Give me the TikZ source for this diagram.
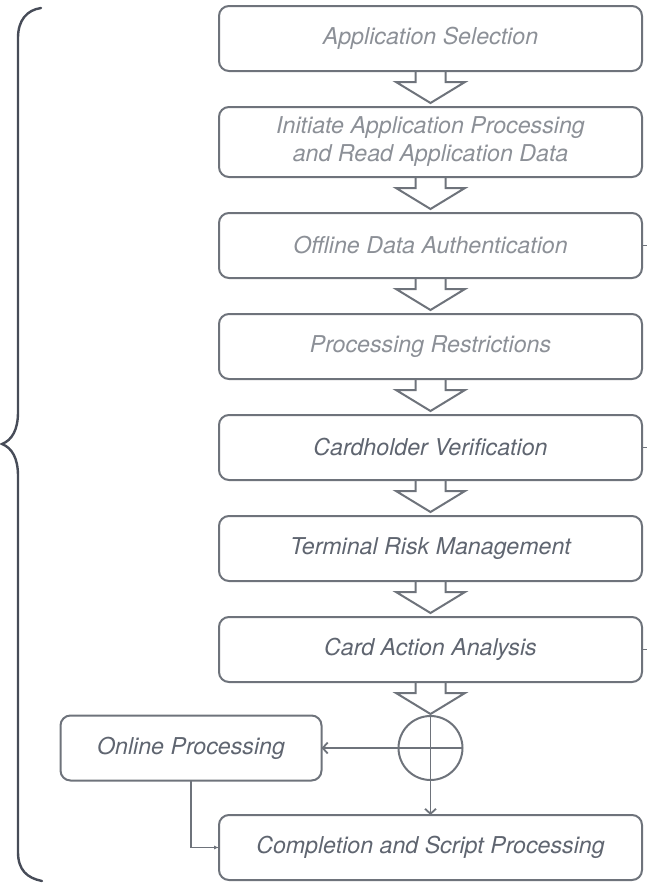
\documentclass[tikz,border=0pt]{standalone}
\usepackage{fontspec}
\setmainfont{TeX Gyre Heros}
\usetikzlibrary{positioning,arrows.meta}
\usepackage{xcolor}

\definecolor{boxgray}{HTML}{6E737B}
\definecolor{lighttext}{HTML}{8C9097}
\definecolor{darktext}{HTML}{5F6570}
\definecolor{bracegray}{HTML}{474C58}
\newcommand{\stagefont}{\fontsize{23.2}{28}\selectfont\itshape}
% hollow block arrow from the bottom of one box to the next one
\newcommand{\blockarrow}[2]{\draw[chevron] ([xshift=-15pt]#1.south) -- ++(0,-11) -- ++(-19.5,0) -- ++(34.5,-21) -- ++(34.5,21) -- ++(-19.5,0) -- ++(0,11);}

\begin{document}
\begin{tikzpicture}[x=1pt,y=1pt,%
		   stage/.style={draw=boxgray,line width=2pt,rounded corners=10pt,minimum width=423pt,minimum height=65pt,align=center,inner sep=2pt,outer sep=0pt,font=\stagefont},
		   chevron/.style={draw=boxgray,line width=2pt,line join=miter},
		   flow/.style={draw=boxgray,line width=1.8pt},
		   brace/.style={draw=bracegray,line width=2.4pt,line cap=round}]

	\useasboundingbox (0,0) rectangle (646,-886);

	    \foreach \name/\desc/\tone/\hgt [count=\y] in {%
	       select/Application Selection/lighttext/65,%
	       init/{Initiate Application Processing\\and Read Application Data}/lighttext/70,%
	       oda/Offline Data Authentication/lighttext/65,%
	       restrict/Processing Restrictions/lighttext/65,%
	       cvm/Cardholder Verification/darktext/65,%
	       trm/Terminal Risk Management/darktext/65,%
	       caa/Card Action Analysis/darktext/65%
	       } { \ifnum\y=1 \node[stage,text=\tone,minimum height=\hgt pt](\name) at (430.5,-38.5){\desc};
		   \else\node[stage,text=\tone,minimum height=\hgt pt,below=36pt of \prev](\name){\desc};
		   \blockarrow{\prev}{\name}
		   \fi
		   \global\let\prev=\name% for the arrow from the last box
	       }

	\node[circle,draw=boxgray,line width=2pt,minimum size=64pt,inner sep=0pt,outer sep=0pt,below=34pt of caa](xor){};
	\blockarrow{caa}{xor}
	\node[stage,text=darktext,minimum width=261pt,left=77pt of xor](online){Online Processing};
	\node[stage,text=darktext,below=35pt of xor](done){Completion and Script Processing};

	\draw[flow,-{Straight Barb[length=5pt,width=11pt]}] (xor.east) -- (online.east);
	\draw[flow,-{Straight Barb[length=5pt,width=11pt]}] (xor.north) -- (done.north);
	\draw[flow,line width=1.5pt,-{Latex[length=5pt,width=4pt]}] (online.south) |- (done.west);

	% stubs leaving the picture on the right
	\foreach \s in {oda,cvm,caa} {
	    \coordinate (\s-out) at ([xshift=6pt]\s.east);
	    \draw[flow,line width=1.5pt] (\s.east) -- (\s-out);
	}

	% brace over all the steps
	\draw[brace] (41,-8) .. controls (27,-10) and (18,-20) .. (18,-38) -- (18,-412)
	    .. controls (18,-430) and (12,-440) .. (2,-444)
	    .. controls (12,-448) and (18,-458) .. (18,-476) -- (18,-852)
	    .. controls (18,-870) and (27,-878) .. (42,-881);
\end{tikzpicture}
\end{document}
